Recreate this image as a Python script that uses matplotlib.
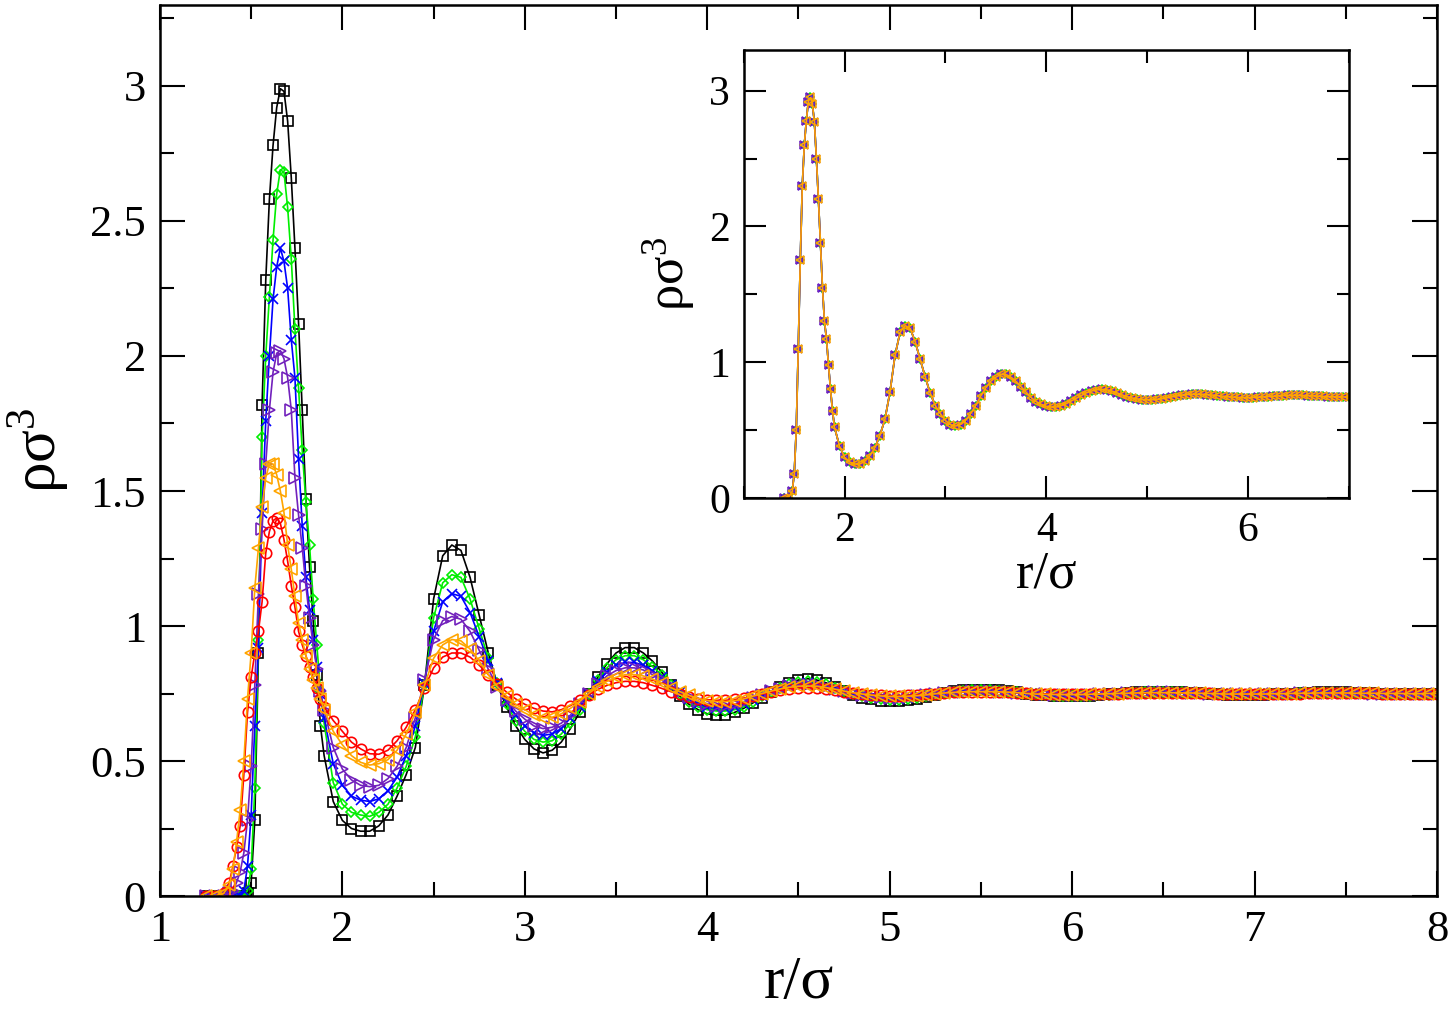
import numpy as np
import matplotlib
matplotlib.use('Agg')
import matplotlib.pyplot as plt
from matplotlib.ticker import MultipleLocator, FormatStrFormatter

plt.rcParams['font.family'] = ['Liberation Serif', 'DejaVu Serif']
plt.rcParams['mathtext.fontset'] = 'custom'
plt.rcParams['mathtext.rm'] = 'Liberation Serif'
plt.rcParams['mathtext.it'] = 'Liberation Serif:italic'

# r grid of the main panel (fine near the contact peak, coarser later)
r_main = np.concatenate([[1.25, 1.30, 1.35, 1.38],
                         np.arange(1.40, 1.905, 0.02),
                         np.arange(1.95, 8.005, 0.05)])

# density profiles
black = [0, 0, 0, 0, 0, 0, 0, 0, 0.01, 0.05, 0.28, 0.90, 1.82, 2.28, 2.58, 2.78,
         2.92, 2.99, 2.98, 2.87, 2.66, 2.40, 2.12, 1.80, 1.47, 1.22, 1.02, 0.82, 0.63, 0.52,
         0.35, 0.28, 0.25, 0.24, 0.24, 0.26, 0.30, 0.37, 0.45, 0.55, 0.78, 1.10, 1.26, 1.30,
         1.28, 1.18, 1.04, 0.90, 0.78, 0.70, 0.63, 0.58, 0.545, 0.53, 0.54, 0.57, 0.62, 0.68,
         0.75, 0.81, 0.86, 0.90, 0.92, 0.92, 0.90, 0.87, 0.83, 0.78, 0.74, 0.71, 0.69, 0.675,
         0.67, 0.67, 0.68, 0.695, 0.715, 0.735, 0.755, 0.775, 0.79, 0.80, 0.805, 0.80, 0.79,
         0.775, 0.76, 0.745, 0.735, 0.728, 0.724, 0.722, 0.722, 0.725, 0.73, 0.737, 0.745,
         0.752, 0.758, 0.762, 0.764, 0.764,
         0.764, 0.762, 0.759, 0.755, 0.75, 0.746, 0.743, 0.741, 0.739, 0.739,
         0.74, 0.742, 0.744, 0.747, 0.75, 0.752, 0.754, 0.756, 0.757, 0.757,
         0.756, 0.755, 0.753, 0.751, 0.749, 0.747, 0.746, 0.745, 0.745, 0.745,
         0.746, 0.747, 0.748, 0.75, 0.752, 0.753, 0.754, 0.754, 0.754, 0.754,
         0.753, 0.752, 0.751, 0.75, 0.749, 0.749, 0.749, 0.749, 0.75, 0.75]

green = [0, 0, 0, 0, 0, 0, 0, 0, 0.02, 0.10, 0.40, 0.95, 1.70, 2.00, 2.22, 2.43,
         2.60, 2.69, 2.68, 2.55, 2.36, 2.10, 1.88, 1.65, 1.46, 1.30, 1.10, 0.93, 0.76, 0.64,
         0.42, 0.34, 0.31, 0.30, 0.295, 0.31, 0.34, 0.40, 0.48, 0.59, 0.78, 1.03, 1.16, 1.19,
         1.18, 1.10, 0.99, 0.88, 0.79, 0.71, 0.65, 0.61, 0.58, 0.57, 0.575, 0.60, 0.64, 0.69,
         0.75, 0.80, 0.845, 0.875, 0.89, 0.89, 0.875, 0.85, 0.82, 0.78, 0.75, 0.72, 0.70, 0.69,
         0.685, 0.685, 0.69, 0.70, 0.72, 0.74, 0.755, 0.77, 0.785, 0.793, 0.795, 0.792, 0.784,
         0.772, 0.76, 0.75, 0.741, 0.734, 0.729, 0.727, 0.727, 0.729, 0.733, 0.739, 0.746,
         0.752, 0.757, 0.760, 0.762, 0.762,
         0.762, 0.760, 0.757, 0.754, 0.75, 0.747, 0.744, 0.742, 0.741, 0.740,
         0.741, 0.742, 0.744, 0.746, 0.749, 0.751, 0.753, 0.755, 0.756, 0.756,
         0.755, 0.754, 0.752, 0.751, 0.749, 0.748, 0.747, 0.746, 0.746, 0.746,
         0.747, 0.748, 0.749, 0.75, 0.751, 0.752, 0.753, 0.753, 0.753, 0.753,
         0.752, 0.752, 0.751, 0.75, 0.75, 0.749, 0.749, 0.749, 0.75, 0.75]

blue = [0, 0, 0, 0, 0, 0, 0, 0.02, 0.11, 0.30, 0.63, 0.92, 1.42, 1.76, 2.00, 2.21,
        2.33, 2.40, 2.35, 2.25, 2.06, 1.92, 1.62, 1.37, 1.18, 1.06, 0.95, 0.85, 0.75, 0.66,
        0.49, 0.41, 0.37, 0.355, 0.35, 0.36, 0.39, 0.44, 0.52, 0.63, 0.79, 0.98, 1.09, 1.12,
        1.11, 1.05, 0.96, 0.87, 0.79, 0.72, 0.67, 0.63, 0.605, 0.595, 0.60, 0.62, 0.66, 0.70,
        0.75, 0.795, 0.83, 0.855, 0.865, 0.865, 0.855, 0.835, 0.81, 0.78, 0.755, 0.73, 0.712,
        0.70, 0.695, 0.695, 0.70, 0.71, 0.725, 0.742, 0.757, 0.77, 0.78, 0.787, 0.789, 0.786,
        0.779, 0.769, 0.759, 0.75, 0.742, 0.736, 0.732, 0.73, 0.73, 0.732, 0.736, 0.741,
        0.747, 0.752, 0.756, 0.759, 0.76, 0.76,
        0.76, 0.759, 0.757, 0.754, 0.751, 0.748, 0.746, 0.744, 0.743, 0.742,
        0.743, 0.744, 0.746, 0.747, 0.749, 0.751, 0.753, 0.754, 0.755, 0.755,
        0.755, 0.754, 0.752, 0.751, 0.75, 0.749, 0.748, 0.747, 0.747, 0.747,
        0.747, 0.748, 0.749, 0.75, 0.751, 0.752, 0.753, 0.753, 0.753, 0.753,
        0.752, 0.752, 0.751, 0.75, 0.75, 0.749, 0.749, 0.749, 0.75, 0.75]

purple = [0, 0, 0, 0.01, 0.02, 0.05, 0.09, 0.16, 0.28, 0.48, 0.78, 1.12, 1.36, 1.60, 1.80, 1.94,
          2.01, 2.02, 1.99, 1.92, 1.80, 1.55, 1.41, 1.29, 1.15, 1.03, 0.93, 0.84, 0.76, 0.69,
          0.55, 0.47, 0.43, 0.41, 0.405, 0.41, 0.435, 0.48, 0.55, 0.66, 0.80, 0.95, 1.02, 1.035,
          1.025, 0.98, 0.91, 0.84, 0.775, 0.725, 0.685, 0.655, 0.63, 0.62, 0.625, 0.64, 0.67,
          0.71, 0.75, 0.785, 0.815, 0.835, 0.845, 0.845, 0.837, 0.82, 0.80, 0.777, 0.755, 0.737,
          0.722, 0.712, 0.705, 0.705, 0.71, 0.72, 0.733, 0.746, 0.758, 0.768, 0.776, 0.781,
          0.783, 0.781, 0.775, 0.767, 0.759, 0.751, 0.745, 0.74, 0.736, 0.734, 0.734, 0.736,
          0.739, 0.743, 0.748, 0.752, 0.755, 0.757, 0.758, 0.758,
          0.758, 0.757, 0.755, 0.753, 0.751, 0.749, 0.747, 0.746, 0.745, 0.745,
          0.745, 0.746, 0.747, 0.748, 0.749, 0.751, 0.752, 0.753, 0.754, 0.754,
          0.754, 0.753, 0.752, 0.751, 0.75, 0.749, 0.748, 0.748, 0.748, 0.748,
          0.748, 0.749, 0.749, 0.75, 0.751, 0.751, 0.752, 0.752, 0.752, 0.752,
          0.751, 0.751, 0.75, 0.75, 0.75, 0.749, 0.749, 0.749, 0.75, 0.75]

red = [0, 0, 0.01, 0.05, 0.11, 0.18, 0.26, 0.45, 0.68, 0.81, 0.90, 0.98, 1.09, 1.27, 1.35, 1.39,
       1.40, 1.38, 1.32, 1.24, 1.15, 1.07, 0.98, 0.93, 0.89, 0.85, 0.81, 0.77, 0.73, 0.70,
       0.65, 0.61, 0.57, 0.545, 0.527, 0.525, 0.54, 0.575, 0.625, 0.69, 0.77, 0.845, 0.885,
       0.90, 0.90, 0.885, 0.855, 0.82, 0.785, 0.755, 0.73, 0.71, 0.695, 0.685, 0.682, 0.69,
       0.705, 0.725, 0.745, 0.765, 0.78, 0.79, 0.795, 0.795, 0.79, 0.78, 0.769, 0.757, 0.747,
       0.738, 0.731, 0.727, 0.725, 0.725, 0.728, 0.733, 0.74, 0.748, 0.755, 0.762, 0.767, 0.77,
       0.771, 0.77, 0.767, 0.762, 0.757, 0.752, 0.748, 0.745, 0.743, 0.742, 0.742, 0.743,
       0.745, 0.747, 0.75, 0.752, 0.754, 0.755, 0.756, 0.756,
       0.756, 0.756, 0.755, 0.753, 0.751, 0.75, 0.749, 0.748, 0.747, 0.747,
       0.747, 0.748, 0.748, 0.749, 0.75, 0.751, 0.751, 0.752, 0.752, 0.753,
       0.753, 0.752, 0.752, 0.751, 0.751, 0.75, 0.75, 0.749, 0.749, 0.749,
       0.749, 0.749, 0.75, 0.75, 0.75, 0.751, 0.751, 0.751, 0.751, 0.751,
       0.751, 0.751, 0.751, 0.75, 0.75, 0.75, 0.75, 0.75, 0.75, 0.75]

orange = [0, 0, 0.01, 0.04, 0.10, 0.20, 0.32, 0.50, 0.73, 0.90, 1.14, 1.29, 1.44, 1.55, 1.60, 1.60,
          1.56, 1.50, 1.42, 1.30, 1.21, 1.11, 1.01, 0.95, 0.89, 0.84, 0.80, 0.77, 0.73, 0.69,
          0.61, 0.56, 0.52, 0.495, 0.485, 0.49, 0.505, 0.54, 0.60, 0.68, 0.78, 0.88, 0.93, 0.95,
          0.945, 0.915, 0.87, 0.82, 0.775, 0.74, 0.71, 0.69, 0.67, 0.66, 0.662, 0.675, 0.695,
          0.72, 0.75, 0.775, 0.795, 0.81, 0.82, 0.82, 0.815, 0.803, 0.788, 0.772, 0.757, 0.743,
          0.732, 0.724, 0.72, 0.72, 0.723, 0.73, 0.74, 0.75, 0.759, 0.767, 0.773, 0.777, 0.778,
          0.777, 0.772, 0.766, 0.759, 0.753, 0.748, 0.744, 0.741, 0.739, 0.739, 0.74, 0.742,
          0.745, 0.749, 0.752, 0.754, 0.756, 0.757, 0.757,
          0.757, 0.756, 0.755, 0.753, 0.75, 0.748, 0.747, 0.746, 0.746, 0.746,
          0.746, 0.747, 0.748, 0.749, 0.75, 0.751, 0.752, 0.753, 0.753, 0.753,
          0.753, 0.752, 0.752, 0.751, 0.75, 0.749, 0.748, 0.748, 0.748, 0.748,
          0.748, 0.749, 0.749, 0.75, 0.751, 0.751, 0.752, 0.752, 0.752, 0.752,
          0.751, 0.751, 0.751, 0.75, 0.75, 0.75, 0.749, 0.749, 0.75, 0.75]

# inset: all profiles collapse onto one curve
r_inset = np.concatenate([[1.40, 1.44, 1.48],
                          np.arange(1.50, 1.905, 0.02),
                          np.arange(1.95, 7.005, 0.05)])
rho_inset = [0, 0, 0.05, 0.18, 0.50, 1.10, 1.75, 2.30, 2.60, 2.78, 2.92, 2.95, 2.90, 2.77,
             2.50, 2.20, 1.88, 1.55, 1.30, 1.17, 0.98, 0.80, 0.64, 0.52,
             0.38, 0.30, 0.265, 0.25, 0.25, 0.27, 0.31, 0.37, 0.46, 0.58, 0.78, 1.05, 1.22,
             1.27, 1.25, 1.15, 1.02, 0.89, 0.77, 0.68, 0.62, 0.57, 0.54, 0.53, 0.54, 0.57, 0.62,
             0.68, 0.75, 0.81, 0.86, 0.89, 0.91, 0.91, 0.89, 0.86, 0.82, 0.78, 0.74, 0.71, 0.69,
             0.675, 0.67, 0.67, 0.68, 0.695, 0.715, 0.735, 0.755, 0.775, 0.788, 0.797, 0.80,
             0.797, 0.788, 0.775, 0.76, 0.747, 0.737, 0.73, 0.725, 0.723, 0.723, 0.726, 0.731,
             0.738, 0.745, 0.752, 0.758, 0.762, 0.764, 0.764,
             0.764, 0.761, 0.758, 0.754, 0.75, 0.746, 0.743, 0.741, 0.739, 0.739,
             0.74, 0.742, 0.744, 0.747, 0.749, 0.752, 0.754, 0.755, 0.756, 0.756,
             0.755, 0.754, 0.752, 0.75, 0.748, 0.746, 0.745, 0.744, 0.744, 0.744]

series = [
    (black, 'black', 's', 7.5),
    (green, '#00ee00', 'D', 5.5),
    (blue, '#0000ff', 'x', 6.5),
    (purple, '#7221bc', '>', 8),
    (red, '#ff0000', 'o', 7.5),
    (orange, '#ffa500', '<', 8),
]


def style_axes(ax, lab_size, big, small):
    ax.tick_params(which='both', direction='in', top=True, right=True,
                   labelsize=lab_size, width=1.5, pad=10)
    ax.tick_params(which='major', length=big)
    ax.tick_params(which='minor', length=small)
    for s in ax.spines.values():
        s.set_linewidth(1.8)


fig = plt.figure(figsize=(14.5, 10.19), dpi=100)
ax = fig.add_axes([0.1103, 0.1207, 0.8807, 0.8744])

for y, c, m, ms in series:
    ax.plot(r_main, y, color=c, lw=1.2, marker=m, ms=ms, mfc='none',
            mec=c, mew=1.2)

ax.set_xlim(1, 8)
ax.set_ylim(0, 3.3)
ax.xaxis.set_major_locator(MultipleLocator(1))
ax.xaxis.set_minor_locator(MultipleLocator(0.5))
ax.yaxis.set_major_locator(MultipleLocator(0.5))
ax.yaxis.set_minor_locator(MultipleLocator(0.25))
ax.yaxis.set_major_formatter(FormatStrFormatter('%g'))
style_axes(ax, 32, 18, 10)
ax.set_xlabel('r/σ', fontsize=44, labelpad=4)
ax.set_ylabel('ρσ$^{3}$', fontsize=44, labelpad=14)

# inset
axi = fig.add_axes([0.513, 0.5113, 0.417, 0.4397])
for y, c, m, ms in series[1:4] + series[5:]:
    axi.plot(r_inset, rho_inset, color=c, lw=1.2, marker=m, ms=ms * 0.8,
             mfc='none', mec=c, mew=1.1)
axi.set_xlim(1, 7)
axi.set_ylim(0, 3.3)
axi.xaxis.set_major_locator(MultipleLocator(2))
axi.xaxis.set_minor_locator(MultipleLocator(1))
axi.yaxis.set_major_locator(MultipleLocator(1))
axi.yaxis.set_minor_locator(MultipleLocator(0.5))
style_axes(axi, 30, 16, 9)
axi.set_xlabel('r/σ', fontsize=38, labelpad=0)
axi.set_ylabel('ρσ$^{3}$', fontsize=38, labelpad=8)

fig.savefig('out.png', dpi=100)
